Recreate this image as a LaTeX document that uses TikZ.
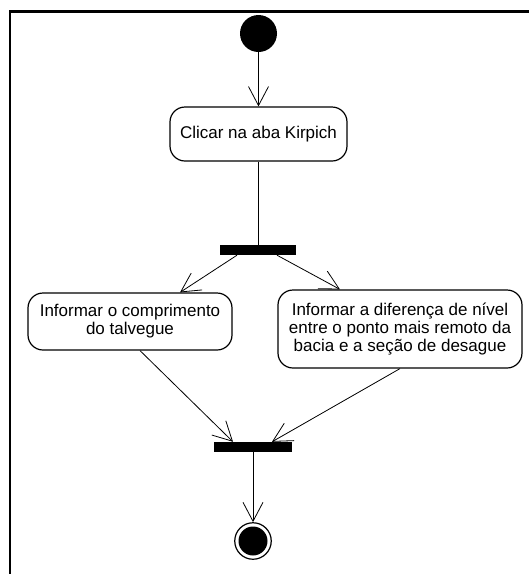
\documentclass[tikz,border=0pt]{standalone}
\usepackage{fontspec}
\setmainfont{Liberation Sans}
\usetikzlibrary{arrows.meta}
\begin{document}
\begin{tikzpicture}[x=1pt,y=-1pt,
  act/.style={draw, line width=1.2pt, rounded corners=15pt, align=center, inner sep=0pt,
    font=\fontsize{17pt}{18pt}\selectfont},
  bar/.style={fill=black, draw=none, inner sep=0pt, minimum width=#1, minimum height=10pt},
  flow/.style={line width=0.8pt, -{Straight Barb[length=19pt,width=20pt,line width=0.8pt]}},
]
\useasboundingbox (0,0) rectangle (529,574);
% frame
\draw[line width=2.5pt] (10,574) -- (10,11.5) -- (529,11.5);
% nodes
\node[circle, fill=black, minimum size=37pt, inner sep=0pt] (start) at (258.5,33.5) {};
\node[act, minimum width=177pt, minimum height=54pt] (a1) at (258.5,134) {Clicar na aba Kirpich};
\node[bar=76pt] (fork) at (258,250) {};
\node[act, minimum width=204pt, minimum height=57pt] (left) at (130,321.5) {Informar o comprimento\\do talvegue};
\node[act, minimum width=244pt, minimum height=78pt] (right) at (400,329) {Informar a diferença de nível\\entre o ponto mais remoto da\\bacia e a seção de desague};
\node[bar=78pt] (join) at (253,447) {};
\node[circle, draw, line width=1.2pt, minimum size=36.5pt, inner sep=0pt] (end) at (253,541) {};
\node[circle, fill=black, minimum size=29pt, inner sep=0pt] (endin) at (end.center) {};
% connectors
\draw[flow] (start.south) -- (a1.north);
\draw[line width=0.8pt] (a1.south) -- (fork.north -| a1.south);
\draw[flow] ([xshift=-21pt]fork.south) -- ([xshift=50pt]left.north);
\draw[flow] ([xshift=19pt]fork.south) -- ([xshift=-60pt]right.north);
\draw[flow] ([xshift=10pt]left.south) -- ([xshift=-20pt]join.north);
\draw[flow] (right.south) -- ([xshift=19pt]join.north);
\draw[flow] (join.south) -- (end.north);
\end{tikzpicture}
\end{document}
